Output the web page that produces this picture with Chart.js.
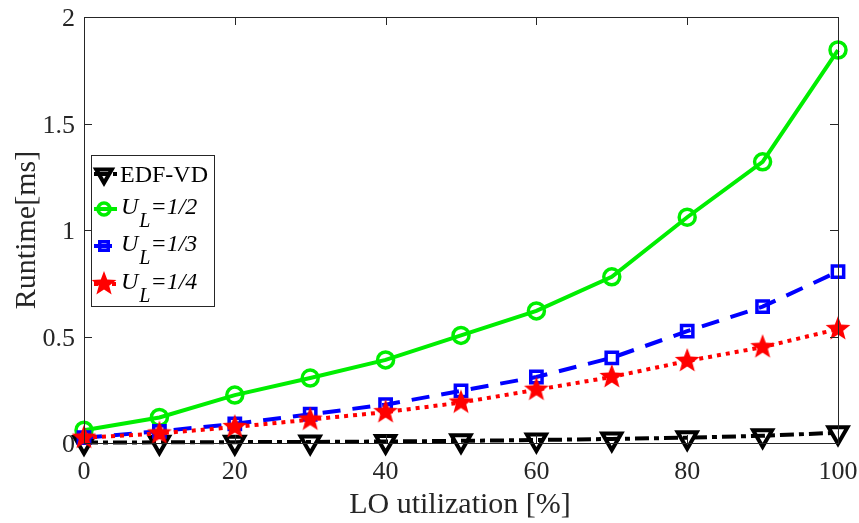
<!DOCTYPE html>
<html>
<head>
<meta charset="utf-8">
<script src="https://cdn.jsdelivr.net/npm/chart.js@4.4.0/dist/chart.umd.min.js"></script>
<style>
  html, body { margin: 0; padding: 0; background: #fff; }
  #wrap { width: 859px; height: 523px; }
</style>
</head>
<body>
<div id="wrap"><canvas id="runtimeChart" width="859" height="523"></canvas></div>
<script>
// utilization steps (x axis)
const utilization = [0, 10, 20, 30, 40, 50, 60, 70, 80, 90, 100];
const xTicks = [0, 20, 40, 60, 80, 100];
const yTicks = [0, 0.5, 1, 1.5, 2];

// runtime in ms
const edfVd = [0.002, 0.003, 0.004, 0.005, 0.007, 0.01, 0.014, 0.019, 0.025, 0.034, 0.048];
const ul2 = [0.06, 0.12, 0.225, 0.305, 0.39, 0.505, 0.62, 0.78, 1.06, 1.32, 1.845];
const ul3 = [0.025, 0.055, 0.09, 0.135, 0.18, 0.245, 0.31, 0.4, 0.525, 0.64, 0.805];
const ul4 = [0.025, 0.045, 0.075, 0.11, 0.145, 0.19, 0.25, 0.31, 0.385, 0.45, 0.535];

const FONT = '"Liberation Serif", "Times New Roman", serif';

// filled five point star as a point image
function makeStar(r, color) {
    const c = document.createElement('canvas');
    c.width = c.height = r * 2 + 2;
    const g = c.getContext('2d');
    g.translate(r + 1, r + 1);
    g.beginPath();
    for (let i = 0; i < 10; i++) {
        const rad = i % 2 === 0 ? r : r * 0.42;
        const a = -Math.PI / 2 + i * Math.PI / 5;
        g.lineTo(rad * Math.cos(a), rad * Math.sin(a));
    }
    g.closePath();
    g.fillStyle = color;
    g.fill();
    return c;
}
const star = makeStar(13, '#ff0000');

const pts = arr => arr.map((v, i) => ({ x: utilization[i], y: v }));

const datasets = [
    {
        label: 'EDF-VD', data: pts(edfVd), order: 4,
        borderColor: '#000', borderWidth: 4, borderDash: [14, 5, 5, 5],
        pointStyle: 'triangle', rotation: 180, pointRadius: 11,
        pointBorderWidth: 4, pointBackgroundColor: 'rgba(0,0,0,0)', pointBorderColor: '#000'
    },
    {
        label: 'U_L=1/2', data: pts(ul2), order: 3,
        borderColor: '#00ee00', borderWidth: 4,
        pointStyle: 'circle', pointRadius: 8,
        pointBorderWidth: 3.5, pointBackgroundColor: 'rgba(0,0,0,0)', pointBorderColor: '#00ee00'
    },
    {
        label: 'U_L=1/3', data: pts(ul3), order: 2,
        borderColor: '#0000ff', borderWidth: 4, borderDash: [18, 12],
        pointStyle: 'rect', pointRadius: 8,
        pointBorderWidth: 3.5, pointBackgroundColor: 'rgba(0,0,0,0)', pointBorderColor: '#0000ff'
    },
    {
        label: 'U_L=1/4', data: pts(ul4), order: 1,
        borderColor: '#ff0000', borderWidth: 4, borderDash: [4, 5],
        pointStyle: star, pointRadius: 13
    }
];

// box, inward ticks, tick labels, titles and legend
const matlabAxes = {
    id: 'matlabAxes',
    afterDatasetsDraw(chart) {
        const ctx = chart.ctx;
        const a = chart.chartArea;
        const xs = chart.scales.x, ys = chart.scales.y;
        ctx.save();
        ctx.strokeStyle = '#262626';
        ctx.lineWidth = 1;
        ctx.strokeRect(a.left + 0.5, a.top + 0.5, a.right - a.left, a.bottom - a.top);
        ctx.beginPath();
        xTicks.forEach(t => {
            const px = Math.round(xs.getPixelForValue(t)) + 0.5;
            ctx.moveTo(px, a.bottom); ctx.lineTo(px, a.bottom - 8);
            ctx.moveTo(px, a.top); ctx.lineTo(px, a.top + 8);
        });
        yTicks.forEach(t => {
            const py = Math.round(ys.getPixelForValue(t)) + 0.5;
            ctx.moveTo(a.left, py); ctx.lineTo(a.left + 8, py);
            ctx.moveTo(a.right, py); ctx.lineTo(a.right - 8, py);
        });
        ctx.stroke();

        ctx.fillStyle = '#262626';
        ctx.font = '26px ' + FONT;
        ctx.textAlign = 'center';
        ctx.textBaseline = 'alphabetic';
        xTicks.forEach(t => ctx.fillText(String(t), xs.getPixelForValue(t), 479));
        ctx.textAlign = 'right';
        yTicks.forEach(t => ctx.fillText(String(t), a.left - 9, ys.getPixelForValue(t) + 9));

        ctx.font = '30px ' + FONT;
        ctx.textAlign = 'center';
        ctx.fillText('LO utilization [%]', 460, 513);
        ctx.save();
        ctx.translate(35, (a.top + a.bottom) / 2);
        ctx.rotate(-Math.PI / 2);
        ctx.fillText('Runtime[ms]', 0, 0);
        ctx.restore();

        // legend
        const lx = 91, ly = 155, lw = 123, lh = 151;
        ctx.fillStyle = '#fff';
        ctx.fillRect(lx, ly, lw, lh);
        ctx.strokeStyle = '#262626';
        ctx.strokeRect(lx + 0.5, ly + 0.5, lw, lh);
        const rows = [174, 209, 246, 284];
        datasets.forEach((ds, i) => {
            const y = rows[i];
            ctx.save();
            ctx.strokeStyle = ds.borderColor;
            ctx.lineWidth = ds.borderWidth;
            ctx.setLineDash(ds.borderDash || []);
            ctx.beginPath();
            ctx.moveTo(94, y); ctx.lineTo(117, y);
            ctx.stroke();
            ctx.setLineDash([]);
            ctx.lineWidth = ds.pointBorderWidth || 1;
            ctx.strokeStyle = ds.pointBorderColor || ds.borderColor;
            ctx.fillStyle = ds.pointBackgroundColor || ds.borderColor;
            Chart.helpers.drawPoint(ctx, {
                pointStyle: ds.pointStyle, rotation: ds.rotation || 0,
                radius: i === 0 ? 9 : (i === 3 ? 11 : 6), borderWidth: ds.pointBorderWidth || 0
            }, 104, y);
            ctx.restore();

            ctx.fillStyle = '#000';
            ctx.textAlign = 'left';
            ctx.textBaseline = 'alphabetic';
            if (i === 0) {
                ctx.font = '24px ' + FONT;
                ctx.fillText('EDF-VD', 120, y + 8);
            } else {
                ctx.font = 'italic 24px ' + FONT;
                ctx.fillText('U', 121, y + 5);
                const uw = ctx.measureText('U').width;
                ctx.font = 'italic 20px ' + FONT;
                ctx.fillText('L', 122 + uw, y + 18);
                const lw2 = ctx.measureText('L').width;
                ctx.font = 'italic 24px ' + FONT;
                ctx.fillText('=1/' + (i + 1), 122 + uw + lw2, y + 5);
            }
        });
        ctx.restore();
    }
};

new Chart(document.getElementById('runtimeChart'), {
    type: 'line',
    data: { datasets: datasets },
    options: {
        responsive: false,
        animation: false,
        layout: { padding: { top: 16, right: 21, left: 0, bottom: 0 } },
        plugins: { legend: { display: false }, tooltip: { enabled: false } },
        scales: {
            x: {
                type: 'linear', min: 0, max: 100,
                ticks: { display: false },
                grid: { display: false, drawTicks: false },
                border: { display: false },
                afterFit: s => { s.height = 80; }
            },
            y: {
                min: 0, max: 2,
                ticks: { display: false },
                grid: { display: false, drawTicks: false },
                border: { display: false },
                afterFit: s => { s.width = 84; }
            }
        },
        elements: { line: { tension: 0, fill: false } },
        clip: false
    },
    plugins: [matlabAxes]
});
</script>
</body>
</html>
